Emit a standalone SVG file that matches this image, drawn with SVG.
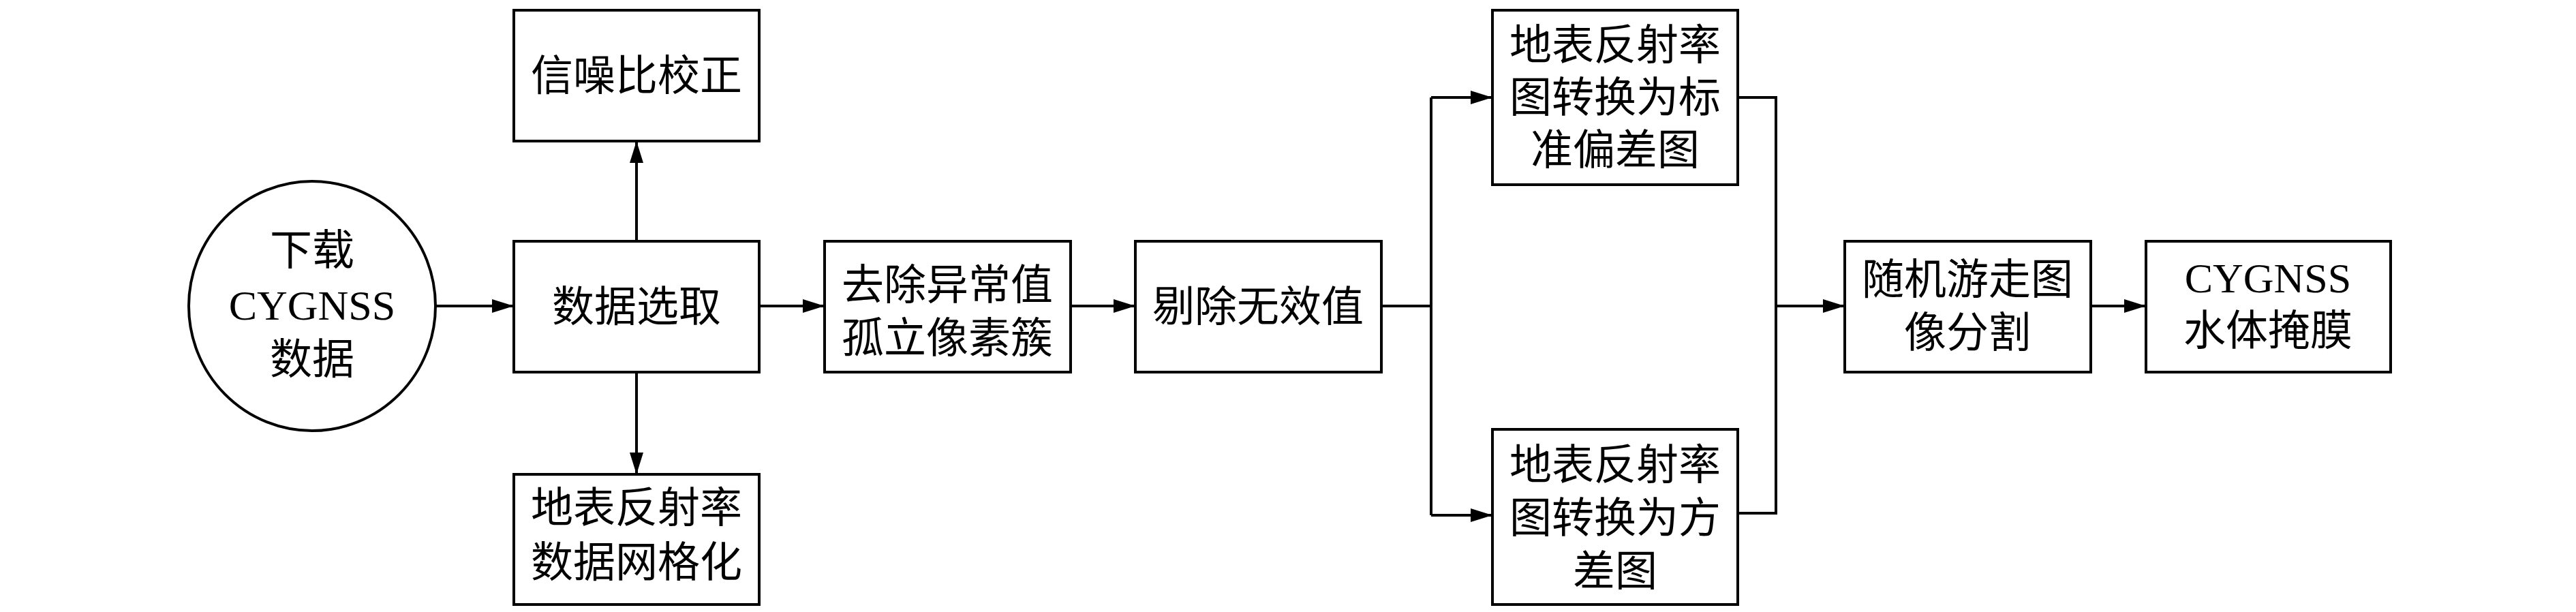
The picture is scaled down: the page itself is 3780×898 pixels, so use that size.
<svg xmlns="http://www.w3.org/2000/svg" width="3780" height="898" viewBox="0 0 3780 898">
<defs>
<marker id="arr" markerWidth="32" markerHeight="20" refX="32" refY="10" orient="auto" markerUnits="userSpaceOnUse">
<path d="M0,0 L32,10 L0,20 Z" fill="#000"/>
</marker>
<style>
.box{fill:#fff;stroke:#000;stroke-width:4}
.t{font-family:"Liberation Serif","Noto Sans CJK SC",serif;font-size:62px;fill:#000;text-anchor:middle}
.c{fill:none;stroke:#000;stroke-width:4}
</style>
</defs>
<rect width="3780" height="898" fill="#fff"/>
<g id="connectors">
<line class="c" x1="639" y1="449" x2="754" y2="449" marker-end="url(#arr)"/>
<line class="c" x1="934" y1="354" x2="934" y2="207" marker-end="url(#arr)"/>
<line class="c" x1="934" y1="546" x2="934" y2="696" marker-end="url(#arr)"/>
<line class="c" x1="1114" y1="449" x2="1210" y2="449" marker-end="url(#arr)"/>
<line class="c" x1="1571" y1="449" x2="1666" y2="449" marker-end="url(#arr)"/>
<polyline class="c" points="2027,449 2100,449"/>
<polyline class="c" points="2100,143 2100,756"/>
<line class="c" x1="2100" y1="143" x2="2190" y2="143" marker-end="url(#arr)"/>
<line class="c" x1="2100" y1="756" x2="2190" y2="756" marker-end="url(#arr)"/>
<polyline class="c" points="2550,143 2606,143 2606,753 2550,753"/>
<line class="c" x1="2606" y1="449" x2="2707" y2="449" marker-end="url(#arr)"/>
<line class="c" x1="3068" y1="449" x2="3149" y2="449" marker-end="url(#arr)"/>
</g>
<g id="download">
<ellipse class="box" cx="458" cy="449" rx="181" ry="183"/>
<text class="t" x="458" y="389">下载</text>
<text class="t" x="458" y="469">CYGNSS</text>
<text class="t" x="458" y="549">数据</text>
</g>
<g id="select">
<rect class="box" x="754" y="354" width="360" height="192"/>
<text class="t" x="934" y="472">数据选取</text>
</g>
<g id="snr">
<rect class="box" x="754" y="15" width="360" height="192"/>
<text class="t" x="934" y="133">信噪比校正</text>
</g>
<g id="grid">
<rect class="box" x="754" y="696" width="360" height="191"/>
<text class="t" x="934" y="767">地表反射率</text>
<text class="t" x="934" y="847">数据网格化</text>
</g>
<g id="outlier">
<rect class="box" x="1210" y="354" width="361" height="192"/>
<text class="t" x="1390" y="440">去除异常值</text>
<text class="t" x="1390" y="518">孤立像素簇</text>
</g>
<g id="invalid">
<rect class="box" x="1666" y="354" width="361" height="192"/>
<text class="t" x="1846" y="472">剔除无效值</text>
</g>
<g id="std">
<rect class="box" x="2190" y="15" width="360" height="256"/>
<text class="t" x="2370" y="88">地表反射率</text>
<text class="t" x="2370" y="165">图转换为标</text>
<text class="t" x="2370" y="242">准偏差图</text>
</g>
<g id="var">
<rect class="box" x="2190" y="630" width="360" height="257"/>
<text class="t" x="2370" y="704">地表反射率</text>
<text class="t" x="2370" y="782">图转换为方</text>
<text class="t" x="2370" y="860">差图</text>
</g>
<g id="randomwalk">
<rect class="box" x="2707" y="354" width="361" height="192"/>
<text class="t" x="2887" y="432">随机游走图</text>
<text class="t" x="2887" y="510">像分割</text>
</g>
<g id="mask">
<rect class="box" x="3149" y="354" width="359" height="192"/>
<text class="t" x="3328" y="429">CYGNSS</text>
<text class="t" x="3328" y="507">水体掩膜</text>
</g>
</svg>
